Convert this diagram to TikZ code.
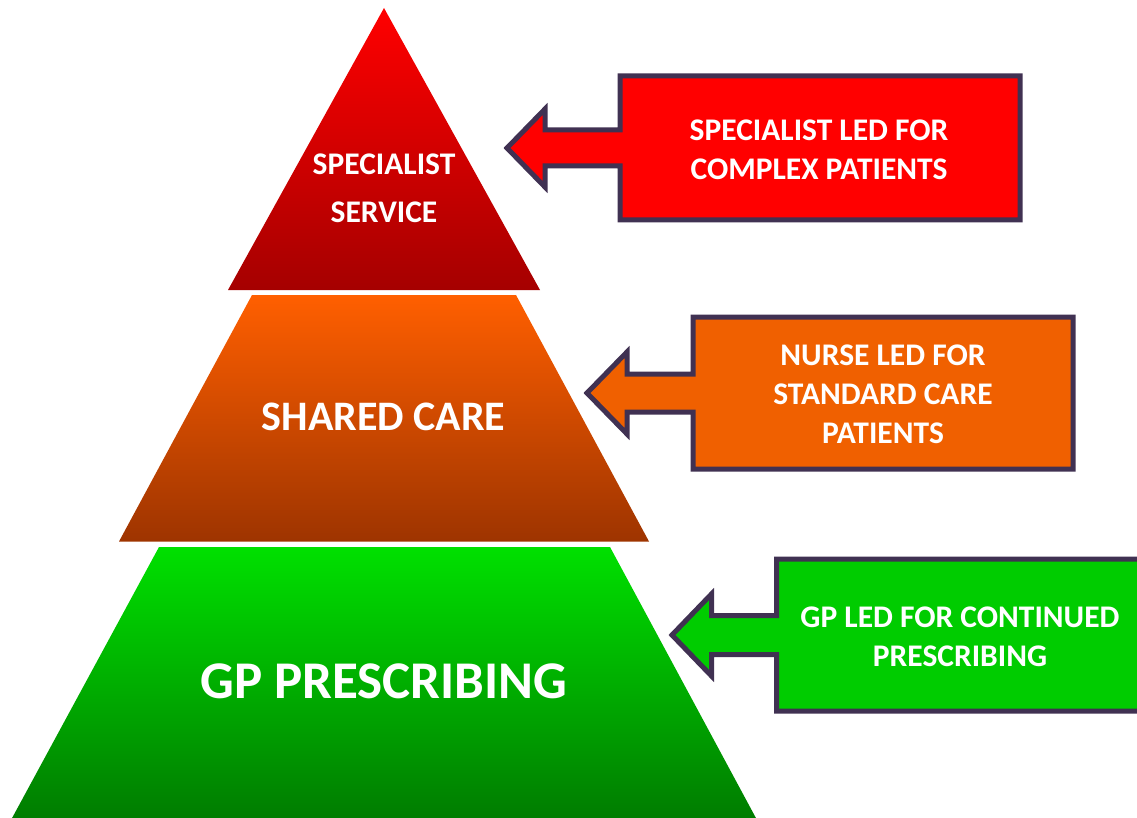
\documentclass[tikz,border=0pt]{standalone}
\usepackage{fontspec}
\setmainfont{Carlito}
\definecolor{outline}{HTML}{403152}
\definecolor{redtop}{RGB}{255,0,0}
\definecolor{redbot}{RGB}{165,0,0}
\definecolor{orangetop}{RGB}{255,95,0}
\definecolor{orangebot}{RGB}{158,52,0}
\definecolor{greentop}{RGB}{0,224,0}
\definecolor{greenbot}{RGB}{0,124,0}
\definecolor{boxred}{RGB}{255,0,0}
\definecolor{boxorange}{RGB}{240,96,0}
\definecolor{boxgreen}{RGB}{0,204,0}
\begin{document}
\begin{tikzpicture}[x=1pt,y=-1pt,
  calloutbox/.style={line width=5pt, draw=outline, line join=miter},
  lbl/.style={text=white, align=center, inner sep=0pt,
    font=\bfseries\fontsize{31.5}{39}\selectfont}]
\useasboundingbox (0,0) rectangle (1137,818);
\clip (0,0) rectangle (1137,818);

% pyramid tiers
\shade[top color=redtop, bottom color=redbot]
  (384,8) -- (540,290) -- (228,290) -- cycle;
\shade[top color=orangetop, bottom color=orangebot]
  (252,295) -- (516,295) -- (649,541.5) -- (119,541.5) -- cycle;
\shade[top color=greentop, bottom color=greenbot]
  (159,547) -- (610,547) -- (757,820) -- (11,820) -- cycle;

\node[lbl, font=\bfseries\fontsize{31.5}{48}\selectfont] (tier1) at (384,188)
  {SPECIALIST\\SERVICE};
\node[lbl, font=\bfseries\fontsize{42}{50}\selectfont] (tier2) at (383.5,417)
  {SHARED CARE};
\node[lbl, font=\bfseries\fontsize{53}{60}\selectfont] (tier3) at (384,681)
  {GP PRESCRIBING};

% arrow callouts pointing at the tiers
\filldraw[calloutbox, fill=boxred]
  (620,76) -- (1020,76) -- (1020,220) -- (620,220) -- (620,166) -- (545,166)
  -- (545,187) -- (507,148) -- (545,109) -- (545,130) -- (620,130) -- cycle;
\filldraw[calloutbox, fill=boxorange]
  (693,317) -- (1073,317) -- (1073,469) -- (693,469) -- (693,412) -- (627,412)
  -- (627,434) -- (587,393) -- (627,352) -- (627,374) -- (693,374) -- cycle;
\filldraw[calloutbox, fill=boxgreen]
  (776.5,559) -- (1160,559) -- (1160,711) -- (776.5,711) -- (776.5,654.5)
  -- (711.5,654.5) -- (711.5,676) -- (672,635) -- (711.5,594) -- (711.5,615.5)
  -- (776.5,615.5) -- cycle;

\node[lbl] (note1) at (819,149.5) {SPECIALIST LED FOR\\COMPLEX PATIENTS};
\node[lbl] (note2) at (883,394) {NURSE LED FOR\\STANDARD CARE\\PATIENTS};
\node[lbl] (note3) at (960,636.5) {GP LED FOR CONTINUED\\PRESCRIBING};
\end{tikzpicture}
\end{document}
